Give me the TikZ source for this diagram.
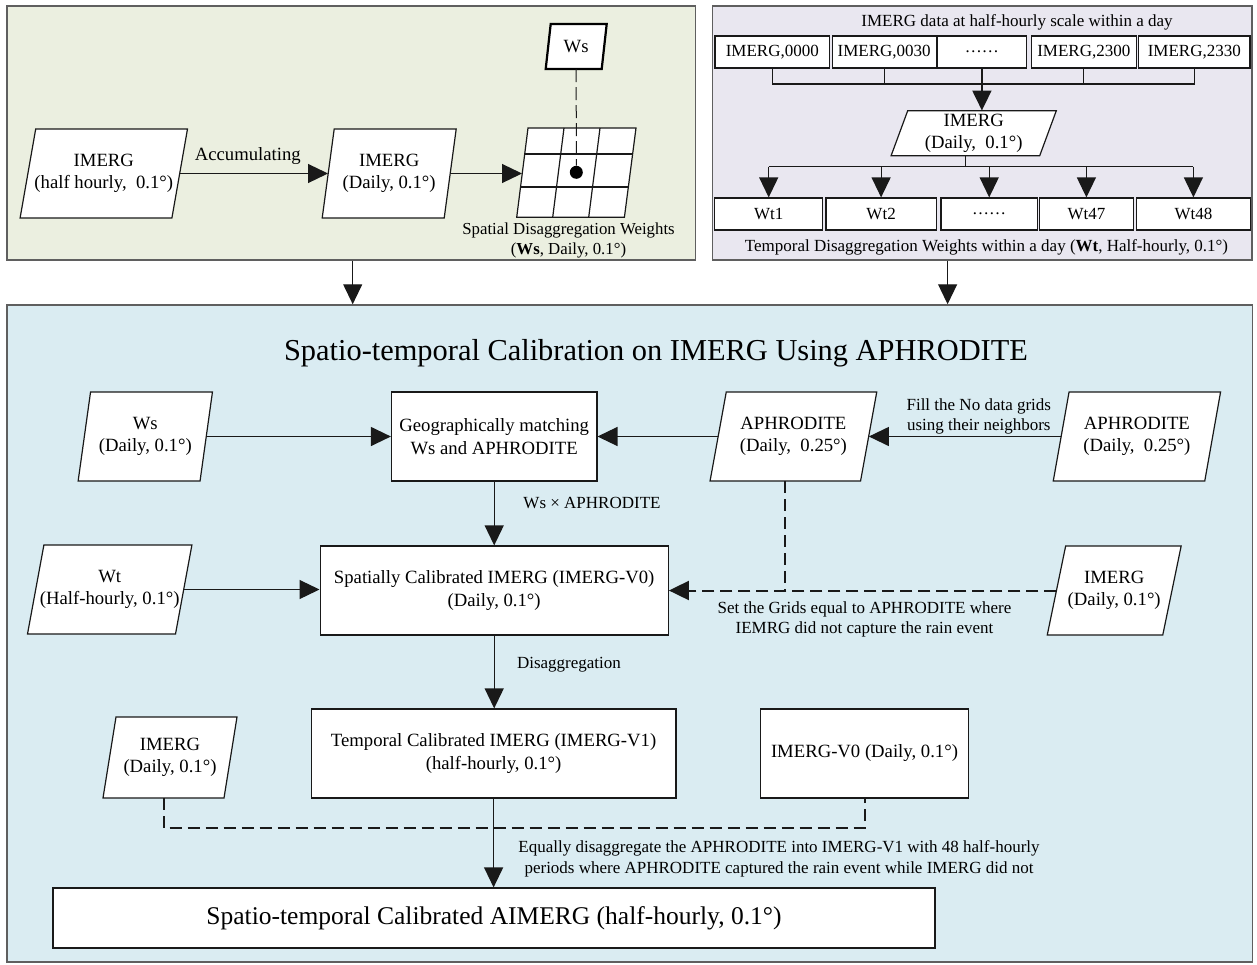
\documentclass[tikz,border=0pt]{standalone}
\usepackage{fontspec}
\setmainfont{Liberation Serif}
\usetikzlibrary{arrows.meta,calc}

\definecolor{panelA}{RGB}{235,239,224}
\definecolor{panelB}{RGB}{233,231,240}
\definecolor{panelC}{RGB}{218,236,242}
\definecolor{edgegray}{RGB}{95,95,95}
\definecolor{linecol}{RGB}{25,25,25}

\newcommand\fmain{\fontsize{18.7}{22.3}\selectfont}
\newcommand\flbl{\fontsize{17}{20.5}\selectfont}
\newcommand\ftitle{\fontsize{30.4}{34}\selectfont}
\newcommand\ffinal{\fontsize{25.5}{30}\selectfont}

\tikzset{
  panel/.style={draw=edgegray, line width=1.5pt, inner sep=0pt},
  bx/.style={draw=linecol, line width=1.2pt, fill=white, inner sep=0pt, align=center, font=\fmain},
  sbx/.style={bx, font=\flbl, minimum height=32pt},
  conn/.style={draw=linecol, line width=1.2pt},
  arr/.style={conn, -{Triangle[length=20pt,width=19pt]}},
  dashln/.style={conn, line width=2pt, dash pattern=on 12pt off 6pt},
  lbl/.style={inner sep=0pt, align=center, font=\flbl},
}

% name, cx, cy, width, height, half-slant, text
\newcommand\mypara[7]{%
  \draw[draw=linecol, line width=1.2pt, fill=white]
    ({#2-#4/2+#6},{#3-#5/2}) -- ({#2+#4/2+#6},{#3-#5/2}) --
    ({#2+#4/2-#6},{#3+#5/2}) -- ({#2-#4/2-#6},{#3+#5/2}) -- cycle;
  \node[inner sep=0pt, minimum width=#4pt, minimum height=#5pt, align=center, font=\fmain] (#1) at (#2,#3) {#7};
}

\begin{document}
\begin{tikzpicture}[x=1pt,y=-1pt]
\useasboundingbox (0,0) rectangle (1257,964);

% ---------- panels ----------
\node[panel, fill=panelA, minimum width=688.7pt, minimum height=254pt] (pA) at (351.35,133) {};
\node[panel, fill=panelB, minimum width=539.3pt, minimum height=254pt] (pB) at (982.35,133) {};
\node[panel, fill=panelC, minimum width=1245.7pt, minimum height=657pt] (pC) at (629.85,633.5) {};

\coordinate (xA) at (352.7,0);
\coordinate (xB) at (947.6,0);
\draw[arr] (pA.south -| xA) -- (pC.north -| xA);
\draw[arr] (pB.south -| xB) -- (pC.north -| xB);

% ---------- top-left panel ----------
\mypara{ih}{103.8}{173.5}{151.8}{89}{7.8}{IMERG\\(half hourly,~~0.1°)}
\mypara{idl}{389.2}{173.5}{122}{89}{6}{IMERG\\(Daily, 0.1°)}

% grid
\draw[draw=linecol, line width=1.2pt, fill=white] (528,128) -- (636,128) -- (624.4,217.3) -- (516.7,217.3) -- cycle;
\node[inner sep=0pt, minimum width=108pt, minimum height=89.3pt] (grid) at (576.2,172.6) {};
\draw[conn] (564,128) -- (552.7,217.3);
\draw[conn] (600,128) -- (588.7,217.3);
\draw[conn] (524.7,154) -- (632.4,154);
\draw[conn] (520.5,187) -- (628.2,187);

\draw[arr] (ih.east) -- (ih.east -| idl.west);
\node[lbl, font=\fmain] (acc) at (247.8,156) {Accumulating};
\draw[arr] (idl.east) -- (idl.east -| grid.west);

\draw[draw=black, line width=2.2pt, fill=white] (550.7,24) -- (606.7,24) -- (601.7,69) -- (545.7,69) -- cycle;
\node[inner sep=0pt, minimum width=56pt, minimum height=45pt, font=\fmain] (wsT) at (576.2,46.5) {Ws};
\node[circle, fill=black, minimum size=13pt, inner sep=0pt] (dot) at (576.3,172.3) {};
\draw[conn, line width=1pt, dash pattern=on 13pt off 5pt] (wsT.south) -- (dot);

\node[lbl, font=\fontsize{16.8}{20}\selectfont] (swl) at (568.5,240) {Spatial Disaggregation Weights\\(\textbf{Ws}, Daily, 0.1°)};

% ---------- top-right panel ----------
\node[lbl] (trt) at (1017,22) {IMERG data at half-hourly scale within a day};
\node[sbx, minimum width=114.8pt] (i0000) at (772.3,52) {IMERG,0000};
\node[sbx, minimum width=104pt] (i0030) at (884.2,52) {IMERG,0030};
\node[sbx, minimum width=89.9pt] (idots) at (981.9,52) {……};
\node[sbx, minimum width=104.8pt] (i2300) at (1083.8,52) {IMERG,2300};
\node[sbx, minimum width=111.2pt] (i2330) at (1194.3,52) {IMERG,2330};

\mypara{imd}{973.7}{133.2}{148.6}{45}{8.3}{IMERG\\(Daily,~~0.1°)}

\coordinate (busA) at (0,84);
\coordinate (busB) at (0,166.7);
\draw[conn] (i0000.south) -- (i0000.south |- busA) -- (i2330.south |- busA) -- (i2330.south);
\draw[conn] (i0030.south) -- (i0030.south |- busA);
\draw[conn] (i2300.south) -- (i2300.south |- busA);
\draw[arr, line width=2pt] (idots.south) -- (idots.south |- imd.north);

\node[sbx, minimum width=107.7pt] (wt1) at (768.7,214) {Wt1};
\node[sbx, minimum width=110.1pt] (wt2) at (881.1,214) {Wt2};
\node[sbx, minimum width=96.6pt] (wtd) at (989.2,214) {……};
\node[sbx, minimum width=94.1pt] (wt47) at (1086.4,214) {Wt47};
\node[sbx, minimum width=114.4pt] (wt48) at (1193.4,214) {Wt48};

\draw[conn] ([xshift=-8.3pt]imd.south) -- ([xshift=-8.3pt]imd.south |- busB);
\draw[conn] (wt1.north |- busB) -- (wt48.north |- busB);
\foreach \w in {wt1,wt2,wtd,wt47,wt48} {\draw[arr] (\w.north |- busB) -- (\w.north);}

\node[lbl] (tdw) at (986.5,247) {Temporal Disaggregation Weights within a day (\textbf{Wt}, Half-hourly, 0.1°)};

% ---------- bottom panel ----------
\node[inner sep=0pt, font=\ftitle, anchor=base] (title) at (656,360) {Spatio-temporal Calibration on IMERG Using APHRODITE};

\mypara{ws}{145.3}{436.5}{121.9}{89}{6.2}{Ws\\(Daily, 0.1°)}
\node[bx, minimum width=205.4pt, minimum height=89pt] (geo) at (494.2,436.5) {Geographically matching\\Ws and APHRODITE};
\mypara{aph1}{793.4}{436.5}{150.5}{89}{8.1}{APHRODITE\\(Daily,~~0.25°)}
\mypara{aph2}{1136.9}{436.5}{151.5}{89}{7.9}{APHRODITE\\(Daily,~~0.25°)}

\mypara{wt}{109.7}{589.5}{148}{89}{8.2}{Wt\\(Half-hourly, 0.1°)}
\node[bx, minimum width=348.2pt, minimum height=89pt] (spat) at (494.2,590.5) {Spatially Calibrated IMERG (IMERG-V0)\\(Daily, 0.1°)};
\mypara{imr}{1114.2}{590.5}{115.5}{89}{9.2}{IMERG\\(Daily, 0.1°)}

\node[bx, minimum width=364.9pt, minimum height=89pt] (temp) at (493.6,753.5) {Temporal Calibrated IMERG (IMERG-V1)\\(half-hourly, 0.1°)};
\mypara{imb}{170}{757.5}{121}{81}{6.5}{IMERG\\(Daily, 0.1°)}
\node[bx, minimum width=208.5pt, minimum height=89pt] (v0) at (864.5,753.5) {IMERG-V0 (Daily, 0.1°)};

\node[bx, minimum width=882pt, minimum height=60pt, font=\ffinal] (final) at (494,918) {Spatio-temporal Calibrated AIMERG (half-hourly, 0.1°)};

% connectors
\draw[arr] (ws.east) -- (ws.east -| geo.west);
\draw[arr] (aph1.west) -- (aph1.west -| geo.east);
\draw[arr] (aph2.west) -- (aph2.west -| aph1.east);
\draw[arr] (geo.south) -- (geo.south |- spat.north);
\draw[arr] (wt.east) -- (wt.east -| spat.west);
\draw[dashln] ([xshift=-8.1pt]aph1.south) -- ([xshift=-8.1pt]aph1.south |- spat.east);
\draw[dashln, -{Triangle[length=20pt,width=19pt]}] (imr.west) -- (imr.west -| spat.east);
\draw[arr] (spat.south) -- (spat.south |- temp.north);
\draw[dashln] ([xshift=-6.5pt]imb.south) -- ++(0,30) -| (v0.south);
\draw[arr] (temp.south) -- (temp.south |- final.north);

% labels
\node[lbl] (l1) at (978.8,416.5) {Fill the No data grids\\using their neighbors};
\node[lbl] (l2) at (592,503) {Ws × APHRODITE};
\node[lbl] (l3) at (864.5,619.5) {Set the Grids equal to APHRODITE where\\IEMRG did not capture the rain event};
\node[lbl] (l4) at (569,665) {Disaggregation};
\node[lbl] (l5) at (779,859) {Equally disaggregate the APHRODITE into IMERG-V1 with 48 half-hourly\\periods where APHRODITE captured the rain event while IMERG did not};
\end{tikzpicture}
\end{document}
